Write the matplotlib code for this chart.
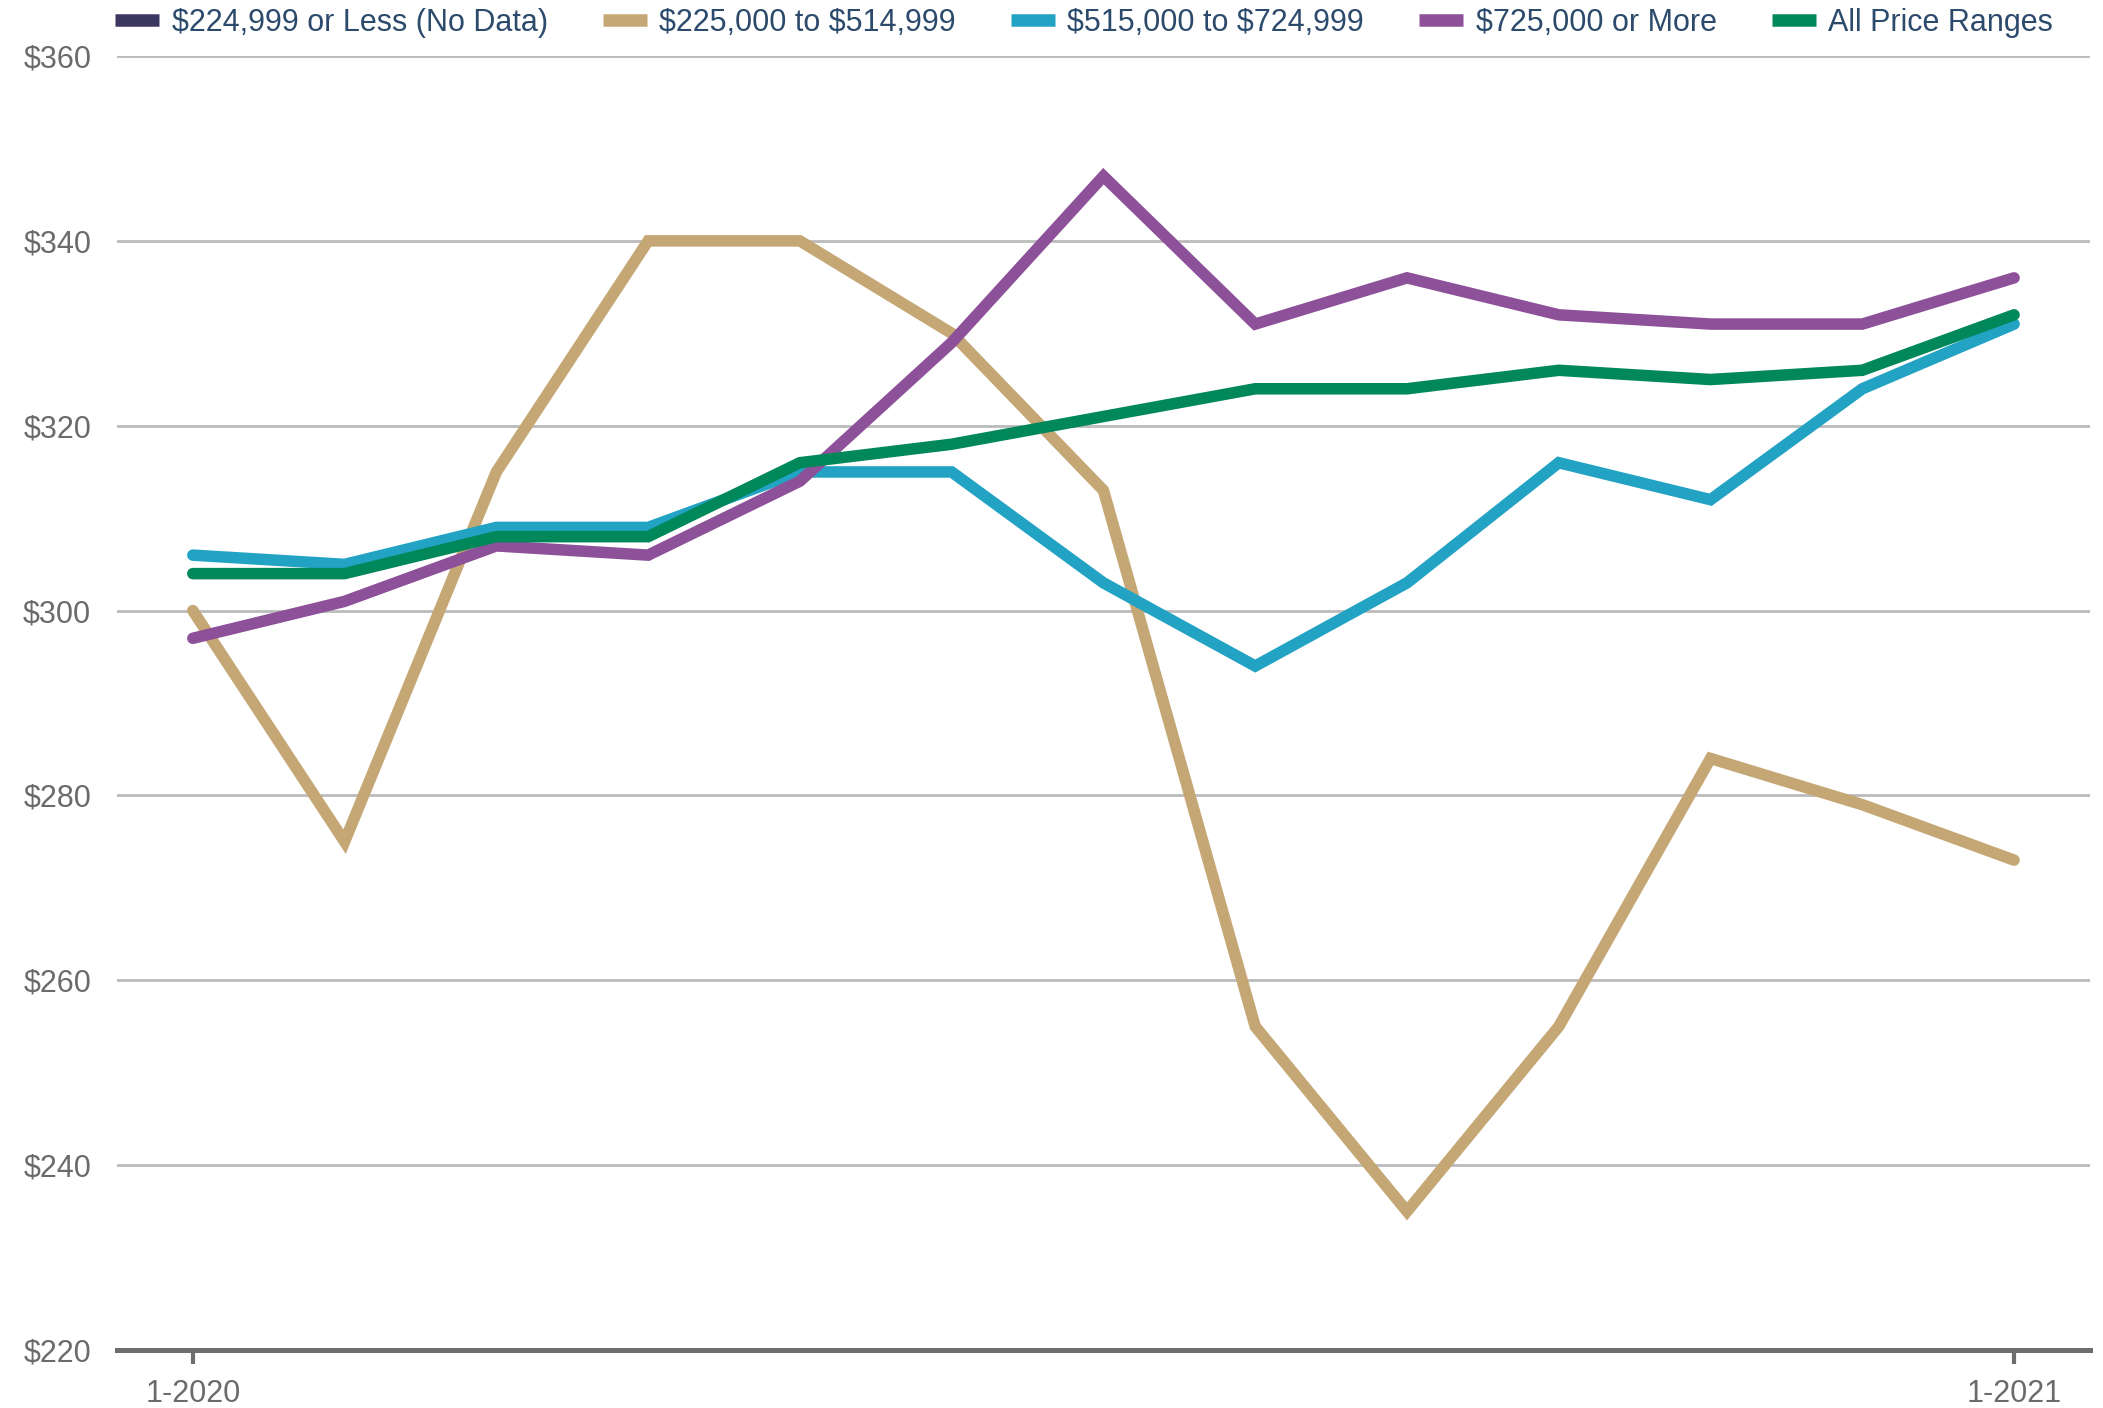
import matplotlib
matplotlib.use("Agg")
import matplotlib.pyplot as plt
from matplotlib.lines import Line2D

months = ["1-2020", "2-2020", "3-2020", "4-2020", "5-2020", "6-2020", "7-2020",
          "8-2020", "9-2020", "10-2020", "11-2020", "12-2020", "1-2021"]
tick_labels = ["1-2020", "1-2021"]
series_names = ["$224,999 or Less (No Data)", "$225,000 to $514,999",
                "$515,000 to $724,999", "$725,000 or More", "All Price Ranges"]
low_vals = []  # no data
mid_low_vals = [300, 275, 315, 340, 340, 330, 313, 255, 235, 255, 284, 279, 273]
mid_high_vals = [306, 305, 309, 309, 315, 315, 303, 294, 303, 316, 312, 324, 331]
high_vals = [297, 301, 307, 306, 314, 329, 347, 331, 336, 332, 331, 331, 336]
all_vals = [304, 304, 308, 308, 316, 318, 321, 324, 324, 326, 325, 326, 332]
y_ticks = [220, 240, 260, 280, 300, 320, 340, 360]

colors = ["#3B3761", "#C4A774", "#22A3C4", "#8D5199", "#00875A"]

plt.rcParams['font.family'] = ['Liberation Sans', 'DejaVu Sans']
plt.rcParams['text.parse_math'] = False

fig = plt.figure(figsize=(21.03, 14.08), dpi=100)
ax = fig.add_axes([0.0556, 0.0412, 0.9382, 0.9190])

x = list(range(len(months)))
lw = 8.3
data = [mid_low_vals, mid_high_vals, high_vals, all_vals]
for i, vals in enumerate(data):
    ax.plot(x, vals, color=colors[i + 1], lw=lw, solid_capstyle='round',
            solid_joinstyle='miter', zorder=3 + i)

ax.set_xlim(-0.5, 12.5)
ax.set_ylim(220, 360)
ax.set_yticks(y_ticks)
ax.set_yticklabels([f"${v}" for v in y_ticks])
ax.set_xticks([0, 12])
ax.set_xticklabels(tick_labels)

for v in y_ticks[1:]:
    ax.axhline(v, color="#BBBBBB", lw=2, zorder=1)

for s in ["top", "right", "left"]:
    ax.spines[s].set_visible(False)
ax.spines["bottom"].set_color("#6E6E6E")
ax.spines["bottom"].set_linewidth(3.6)
ax.spines["bottom"].set_zorder(10)

ax.tick_params(axis='y', length=0, pad=18.5, labelsize=22, labelcolor="#6B6B6B")
ax.tick_params(axis='x', length=10, width=3, color="#6E6E6E", pad=11,
               labelsize=22, labelcolor="#6B6B6B")

handles = [Line2D([0], [0], color=c, lw=9, solid_capstyle='butt') for c in colors]
leg = fig.legend(handles, series_names, loc="center", bbox_to_anchor=(0.5155, 0.984),
                 ncol=5, frameon=False, fontsize=22, handlelength=1.45,
                 handletextpad=0.4, columnspacing=1.8, borderaxespad=0)
for t in leg.get_texts():
    t.set_color("#2C4A6B")

fig.savefig("out.png", dpi=100, facecolor="white")
